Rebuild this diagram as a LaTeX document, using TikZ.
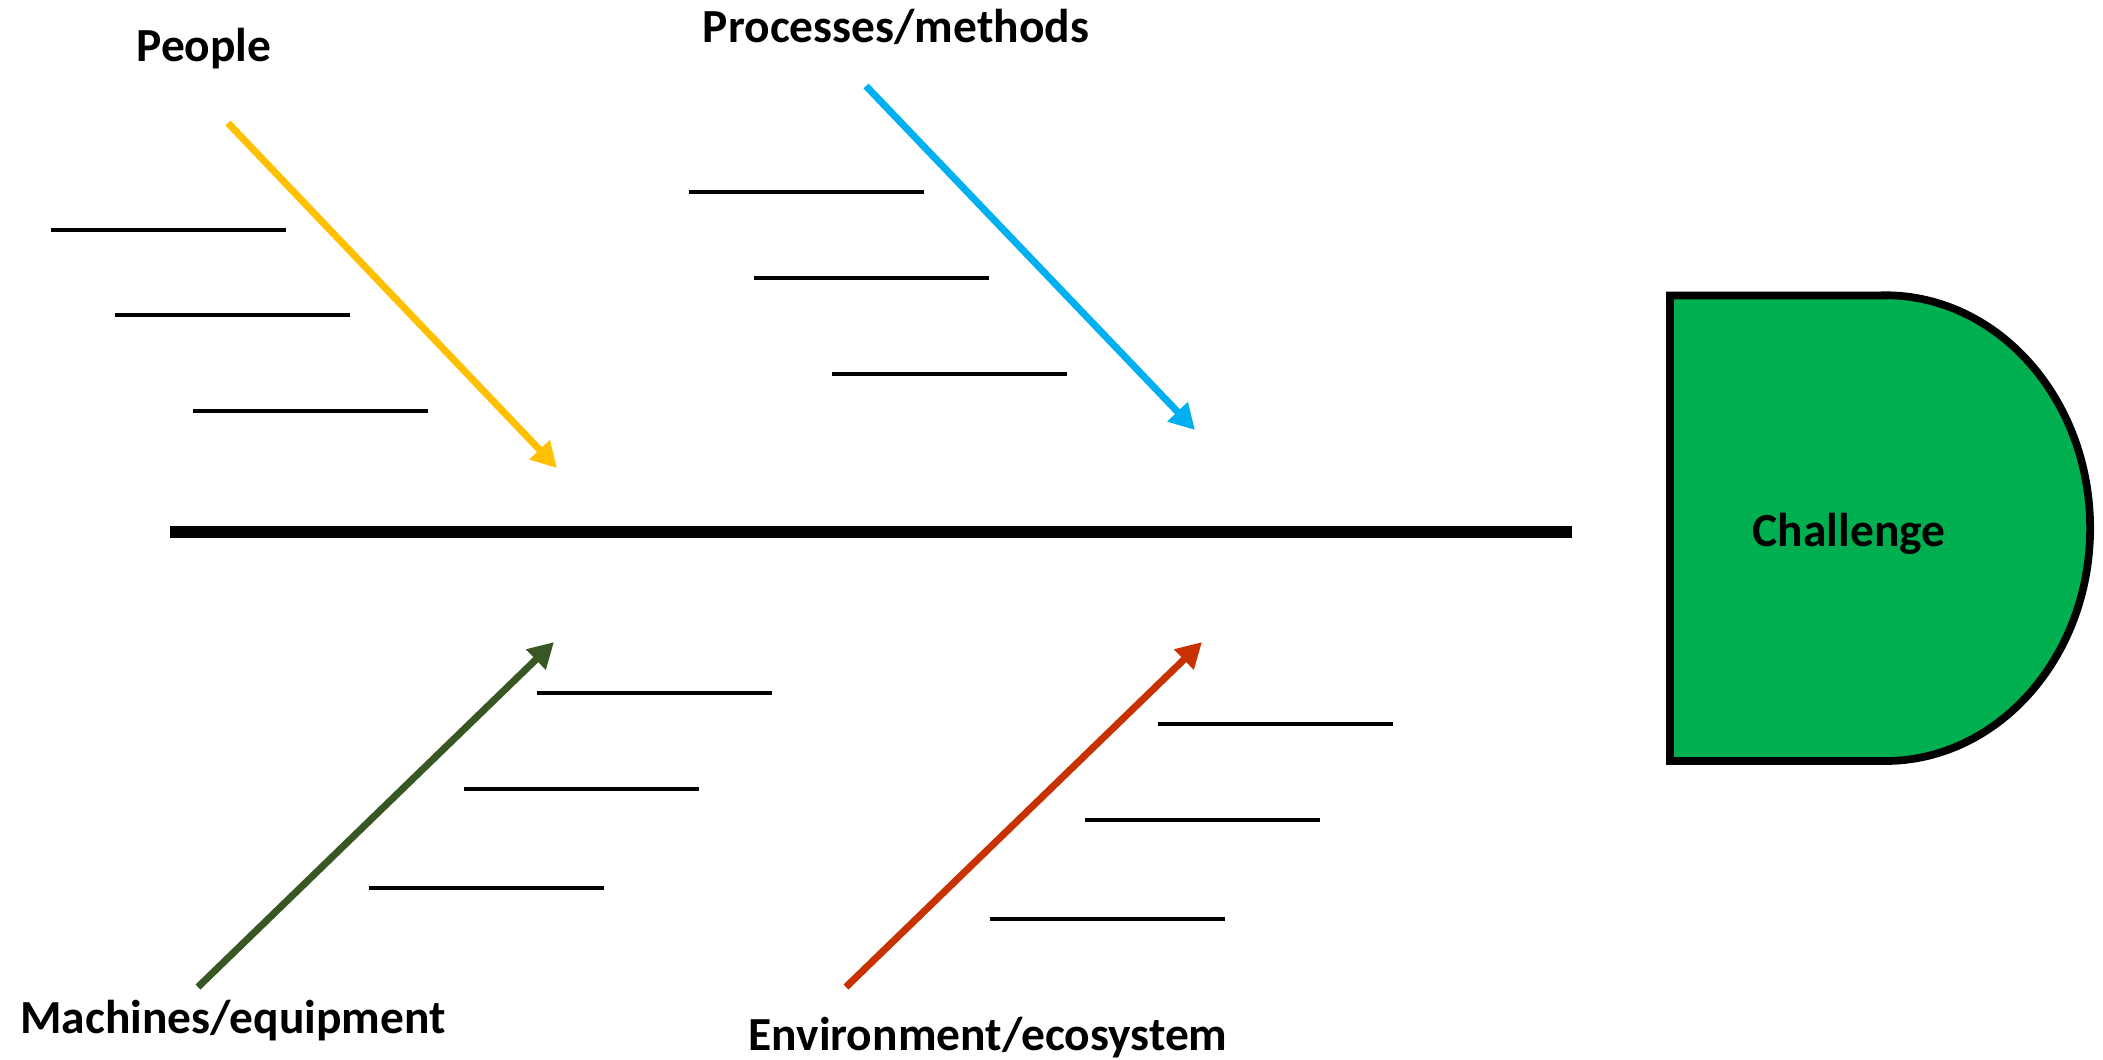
\documentclass[tikz,border=0pt]{standalone}
\usepackage{fontspec}
\setmainfont{Carlito}
\usetikzlibrary{arrows.meta}
\definecolor{peopleyellow}{HTML}{FFC000}
\definecolor{processblue}{HTML}{00B0F0}
\definecolor{machinegreen}{HTML}{385723}
\definecolor{envred}{HTML}{C83200}
\definecolor{challengegreen}{HTML}{00AF50}
\tikzset{
  bone/.style={line width=2pt, -{Triangle[length=7.2pt, width=7.6pt]}},
  rib/.style={line width=1.1pt},
  catlabel/.style={font=\bfseries\fontsize{13.5}{16}\selectfont, inner sep=0pt, anchor=base},
}

\begin{document}
\begin{tikzpicture}[x=0.01cm, y=-0.01cm]
        \useasboundingbox (0,0) rectangle (2103,1059);
        \coordinate (spine-tail) at (170,532);
        \coordinate (spine-head) at (1572,532);
        \draw[line width=3.3pt] (spine-tail) -- (spine-head);
        \draw[line width=2.2pt, fill=challengegreen] (1885,295.5) -- (1670,295.5) -- (1670,761) -- (1885,761)
              arc[start angle=-90, end angle=90, x radius=2.05cm, y radius=2.3275cm] -- cycle;
        \node[catlabel] (challenge) at (1849,546) {Challenge};
        \node[catlabel] (people) at (204,61) {People};
        \node[catlabel] (processes) at (896,42) {Processes/methods};
        \node[catlabel] (machines) at (233,1033) {Machines/equipment};
        \node[catlabel] (environment) at (988,1050) {Environment/ecosystem};
        \coordinate (people-start) at (228,123);
        \coordinate (people-end) at (557,468);
        \coordinate (processes-start) at (866,86);
        \coordinate (processes-end) at (1195,430);
        \coordinate (machines-start) at (198,987);
        \coordinate (machines-end) at (554,642);
        \coordinate (environment-start) at (846,987);
        \coordinate (environment-end) at (1202,642);
        \draw[bone, peopleyellow] (people-start) -- (people-end);
        \draw[bone, processblue] (processes-start) -- (processes-end);
        \draw[bone, machinegreen] (machines-start) -- (machines-end);
        \draw[bone, envred] (environment-start) -- (environment-end);
        \draw[rib] (51,230) -- (286,230);
        \draw[rib] (115,315) -- (350,315);
        \draw[rib] (193,411) -- (428,411);
        \draw[rib] (689,192) -- (924,192);
        \draw[rib] (754,278) -- (989,278);
        \draw[rib] (832,374) -- (1067,374);
        \draw[rib] (537,693) -- (772,693);
        \draw[rib] (464,789) -- (699,789);
        \draw[rib] (369,888) -- (604,888);
        \draw[rib] (1158,724) -- (1393,724);
        \draw[rib] (1085,820) -- (1320,820);
        \draw[rib] (990,919) -- (1225,919);
      \end{tikzpicture}
\end{document}
